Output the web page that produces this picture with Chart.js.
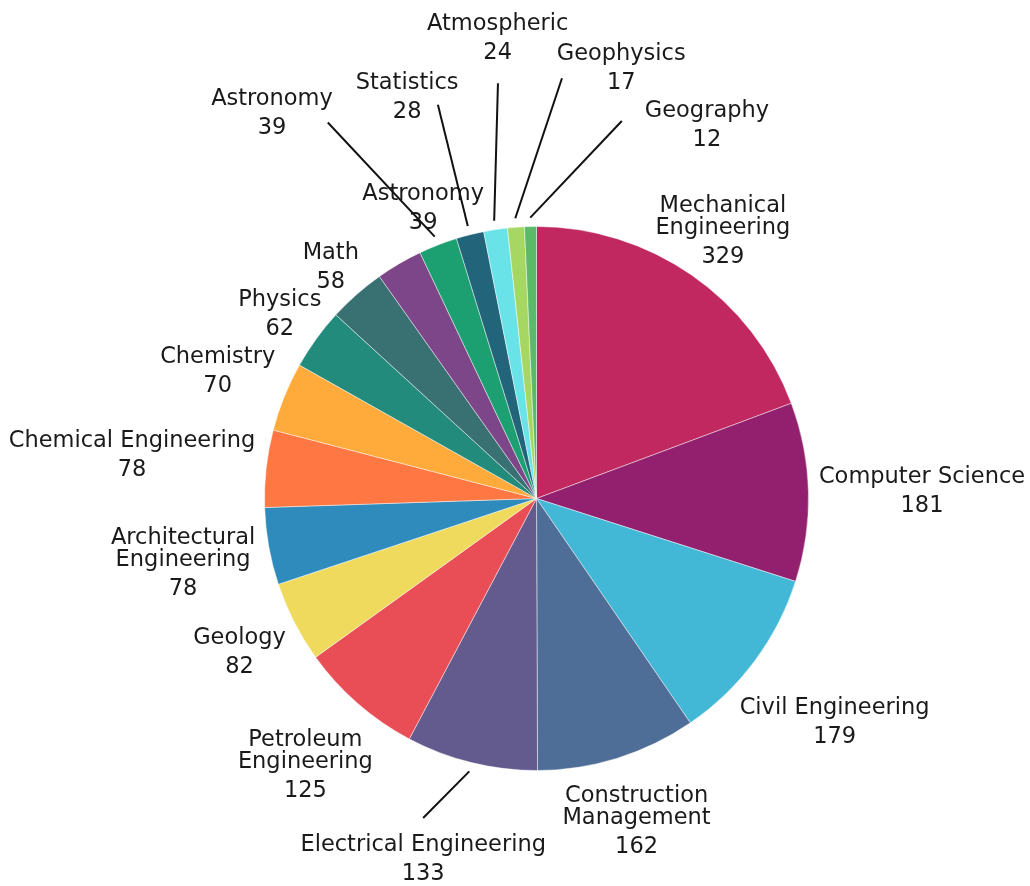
<!DOCTYPE html>
<html>
<head>
<meta charset="utf-8">
<script src="https://cdn.jsdelivr.net/npm/chart.js@4.4.1/dist/chart.umd.min.js"></script>
<style>
  html, body { margin: 0; padding: 0; background: #fff; }
  #wrap { width: 1030px; height: 886px; }
</style>
</head>
<body>
<div id="wrap"><canvas id="majors"></canvas></div>
<script>
// slices clockwise from 12 o'clock
var categories = [
  ['Mechanical', 'Engineering'], 'Computer Science', 'Civil Engineering',
  ['Construction', 'Management'], 'Electrical Engineering', ['Petroleum', 'Engineering'],
  'Geology', ['Architectural', 'Engineering'], 'Chemical Engineering', 'Chemistry',
  'Physics', 'Math', 'Astronomy', 'Astronomy', 'Statistics', 'Atmospheric',
  'Geophysics', 'Geography'
];
// the purple slice's own label is not shown; its size is read from the arc (~47)
var students = [329, 181, 179, 162, 133, 125, 82, 78, 78, 70, 62, 58, 47, 39, 28, 24, 17, 12];
var sliceColors = [
  '#c0285f', '#93206e', '#42b8d6', '#4e6e98', '#635a8e', '#e94e57',
  '#efda5e', '#2e8bbc', '#ff7844', '#ffab3b', '#228b7b', '#397173',
  '#7d4689', '#1ca072', '#22647a', '#6ae3e8', '#a7d763', '#5bba69'
];

// labels outside the pie, pushed around where the small slices crowd together
var outLabels = {
  id: 'outLabels',
  afterDatasetsDraw: function(chart, args, opts) {
    var ctx = chart.ctx;
    var meta = chart.getDatasetMeta(0);
    var values = chart.data.datasets[0].data;
    var deg = Math.PI / 180;
    ctx.save();
    ctx.font = opts.font;
    ctx.fillStyle = opts.color;
    ctx.strokeStyle = opts.lineColor;
    ctx.lineWidth = opts.lineWidth;
    ctx.textAlign = 'center';
    ctx.textBaseline = 'alphabetic';
    meta.data.forEach(function(arc, i) {
      var p = arc.getProps(['x', 'y', 'startAngle', 'endAngle', 'outerRadius'], true);
      var mid = (p.startAngle + p.endAngle) / 2;
      var lines = [].concat(chart.data.labels[i]);
      var val = String(values[i]);
      var w = Math.max.apply(null, lines.concat([val]).map(function(t) { return ctx.measureText(t).width; }));
      var h = opts.capHeight + opts.lineHeight * (lines.length - 1) + opts.valueGap;
      var spots = opts.moved[i] || [{}];

      spots.forEach(function(m) {
        var a = mid + (m.turn || 0) * deg;
        var d;
        if (m.dist !== undefined) {
          d = p.outerRadius + m.dist;
        } else {
          d = p.outerRadius + opts.gap + w / 2 * Math.abs(Math.cos(a)) + h / 2 * Math.abs(Math.sin(a));
        }
        var cx = p.x + d * Math.cos(a);
        var cy = p.y + d * Math.sin(a);

        if (m.line) {
          var r0 = p.outerRadius + opts.lineStart;
          var la = mid + m.line.turn * deg;
          var lr = p.outerRadius + m.line.dist;
          ctx.beginPath();
          ctx.moveTo(p.x + r0 * Math.cos(mid), p.y + r0 * Math.sin(mid));
          ctx.lineTo(p.x + lr * Math.cos(la), p.y + lr * Math.sin(la));
          ctx.stroke();
        }

        var top = cy - h / 2;
        lines.forEach(function(t, k) {
          ctx.fillText(t, cx, top + opts.capHeight + k * opts.lineHeight);
        });
        ctx.fillText(val, cx, top + h);
      });
    });
    ctx.restore();
  }
};

var ctx = document.getElementById('majors').getContext('2d');
new Chart(ctx, {
  type: 'pie',
  data: {
    labels: categories,
    datasets: [{
      data: students,
      backgroundColor: sliceColors,
      borderColor: 'rgba(255, 255, 255, 0.45)',
      borderWidth: 1,
      hoverBorderWidth: 1,
      hoverOffset: 0,
      offset: 0
    }]
  },
  options: {
    responsive: true,
    maintainAspectRatio: false,
    animation: false,
    layout: { padding: { left: 264, right: 221, top: 226, bottom: 115 } },
    plugins: {
      legend: { display: false },
      tooltip: { enabled: false },
      outLabels: {
        font: '22.5px "DejaVu Sans"',
        color: '#1a1a1a',
        lineColor: '#111',
        lineWidth: 2,
        capHeight: 16,
        lineHeight: 22,
        valueGap: 29,
        gap: 10,
        lineStart: 9,
        moved: {
          0: [{ dist: 55 }],
          4: [{ turn: 3.7, dist: 104, line: { turn: 5.7, dist: 67 } }],
          10: [{ dist: 45 }],
          11: [{ dist: 39 }],
          12: [],
          13: [{ dist: 41 }, { turn: -13.1, dist: 197, line: { turn: -7.8, dist: 158 } }],
          14: [{ turn: -3.65, dist: 151, line: { turn: 0.1, dist: 134 } }],
          15: [{ turn: 3.86, dist: 192, line: { turn: 3.36, dist: 145 } }],
          16: [{ turn: 15.43, dist: 168, line: { turn: 7.8, dist: 149 } }],
          17: [{ turn: 25.7, dist: 140, line: { turn: 14, dist: 115 } }]
        }
      }
    }
  },
  plugins: [outLabels]
});
</script>
</body>
</html>
